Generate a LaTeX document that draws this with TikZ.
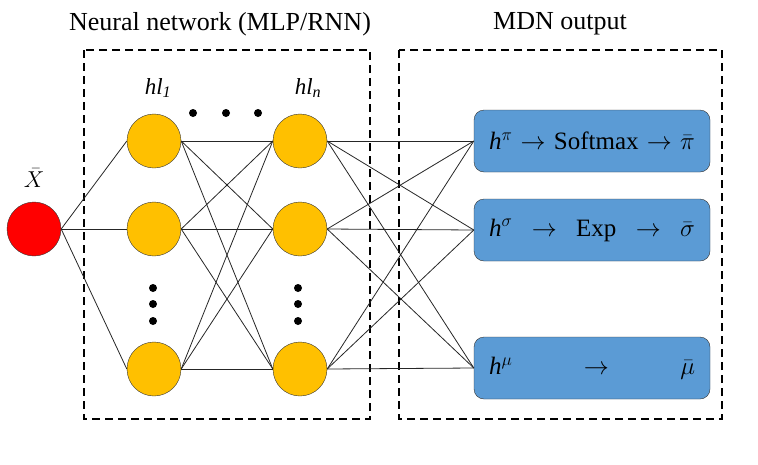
\RequirePackage{fix-cm}
\documentclass[tikz,border=0pt]{standalone}
\usepackage{fontspec}
\setmainfont{Liberation Serif}
\usepackage{tikz}
\usetikzlibrary{positioning}
\definecolor{InRed}{RGB}{255,0,0}
\definecolor{HidGold}{RGB}{255,192,0}
\definecolor{OutBlue}{RGB}{91,155,213}

\begin{document}
\begin{tikzpicture}[x=1pt,y=-1pt,
    neuron/.style={circle,draw=black!80,minimum size=54pt,inner sep=0pt},
    outbox/.style={draw=black!80,fill=OutBlue,rounded corners=10pt,minimum width=236pt,minimum height=62pt,
      text width=206pt,align=left,inner sep=0pt,font=\fontsize{25}{30}\selectfont},
    dashframe/.style={line width=1.2pt,dash pattern=on 8pt off 5pt},
    bigdot/.style={circle,fill=black,inner sep=0pt,minimum size=8pt},
    wire/.style={black!85,line width=0.8pt},
    title/.style={font=\fontsize{26}{30}\selectfont},
    lbl/.style={font=\fontsize{23}{27}\selectfont}]
  \useasboundingbox (0,0) rectangle (758,464);
  \draw[dashframe] (84,50) rectangle (370,419);
  \draw[dashframe] (399,50) rectangle (722,419);
  \node[title] (nntitle) at (220,24) {Neural network (MLP/RNN)};
  \node[title] (mdntitle) at (560,24) {MDN output};
  % input
  \node[neuron,fill=InRed] (x) at (34,229) {};
  \node[lbl] (xlbl) at (34,178) {$\bar{X}$};
  % hidden layers
  \foreach \i/\y in {1/141,2/229,3/369}{
    \node[neuron,fill=HidGold] (a\i) at (154,\y) {};
    \node[neuron,fill=HidGold] (b\i) at (300,\y) {};
  }
  \node[lbl] (hlone) at (158,88) {\textit{hl}\textsubscript{\textit{1}}};
  \node[lbl] (hln) at (308,88) {\textit{hl}\textsubscript{\textit{n}}};
  \foreach \x in {193,226,258}
    \node[bigdot] at (\x,113) {};
  \foreach \y in {288,304,321}{
    \node[bigdot] at (153,\y) {};
    \node[bigdot] at (298,\y) {};
  }
  % outputs
  \node[outbox] (opi) at (592,141) {\textit{h}$^{\pi}$\hfill$\rightarrow$\hfill Softmax\hfill$\rightarrow$\hfill$\bar{\pi}$};
  \node[outbox] (osig) at (592,230) {\textit{h}$^{\sigma}$\hfill$\rightarrow$\hfill Exp\hfill$\rightarrow$\hfill$\bar{\sigma}$};
  \node[outbox] (omu) at (592,368) {\textit{h}$^{\mu}$\hfill$\rightarrow$\hfill$\bar{\mu}$};
  % connections
  \foreach \i in {1,2,3}{
    \draw[wire] (x.east) -- (a\i.west);
    \foreach \j in {1,2,3}
      \draw[wire] (a\i.east) -- (b\j.west);
    \foreach \o in {opi,osig,omu}
      \draw[wire] (b\i.east) -- (\o.west);
  }
\end{tikzpicture}
\end{document}
